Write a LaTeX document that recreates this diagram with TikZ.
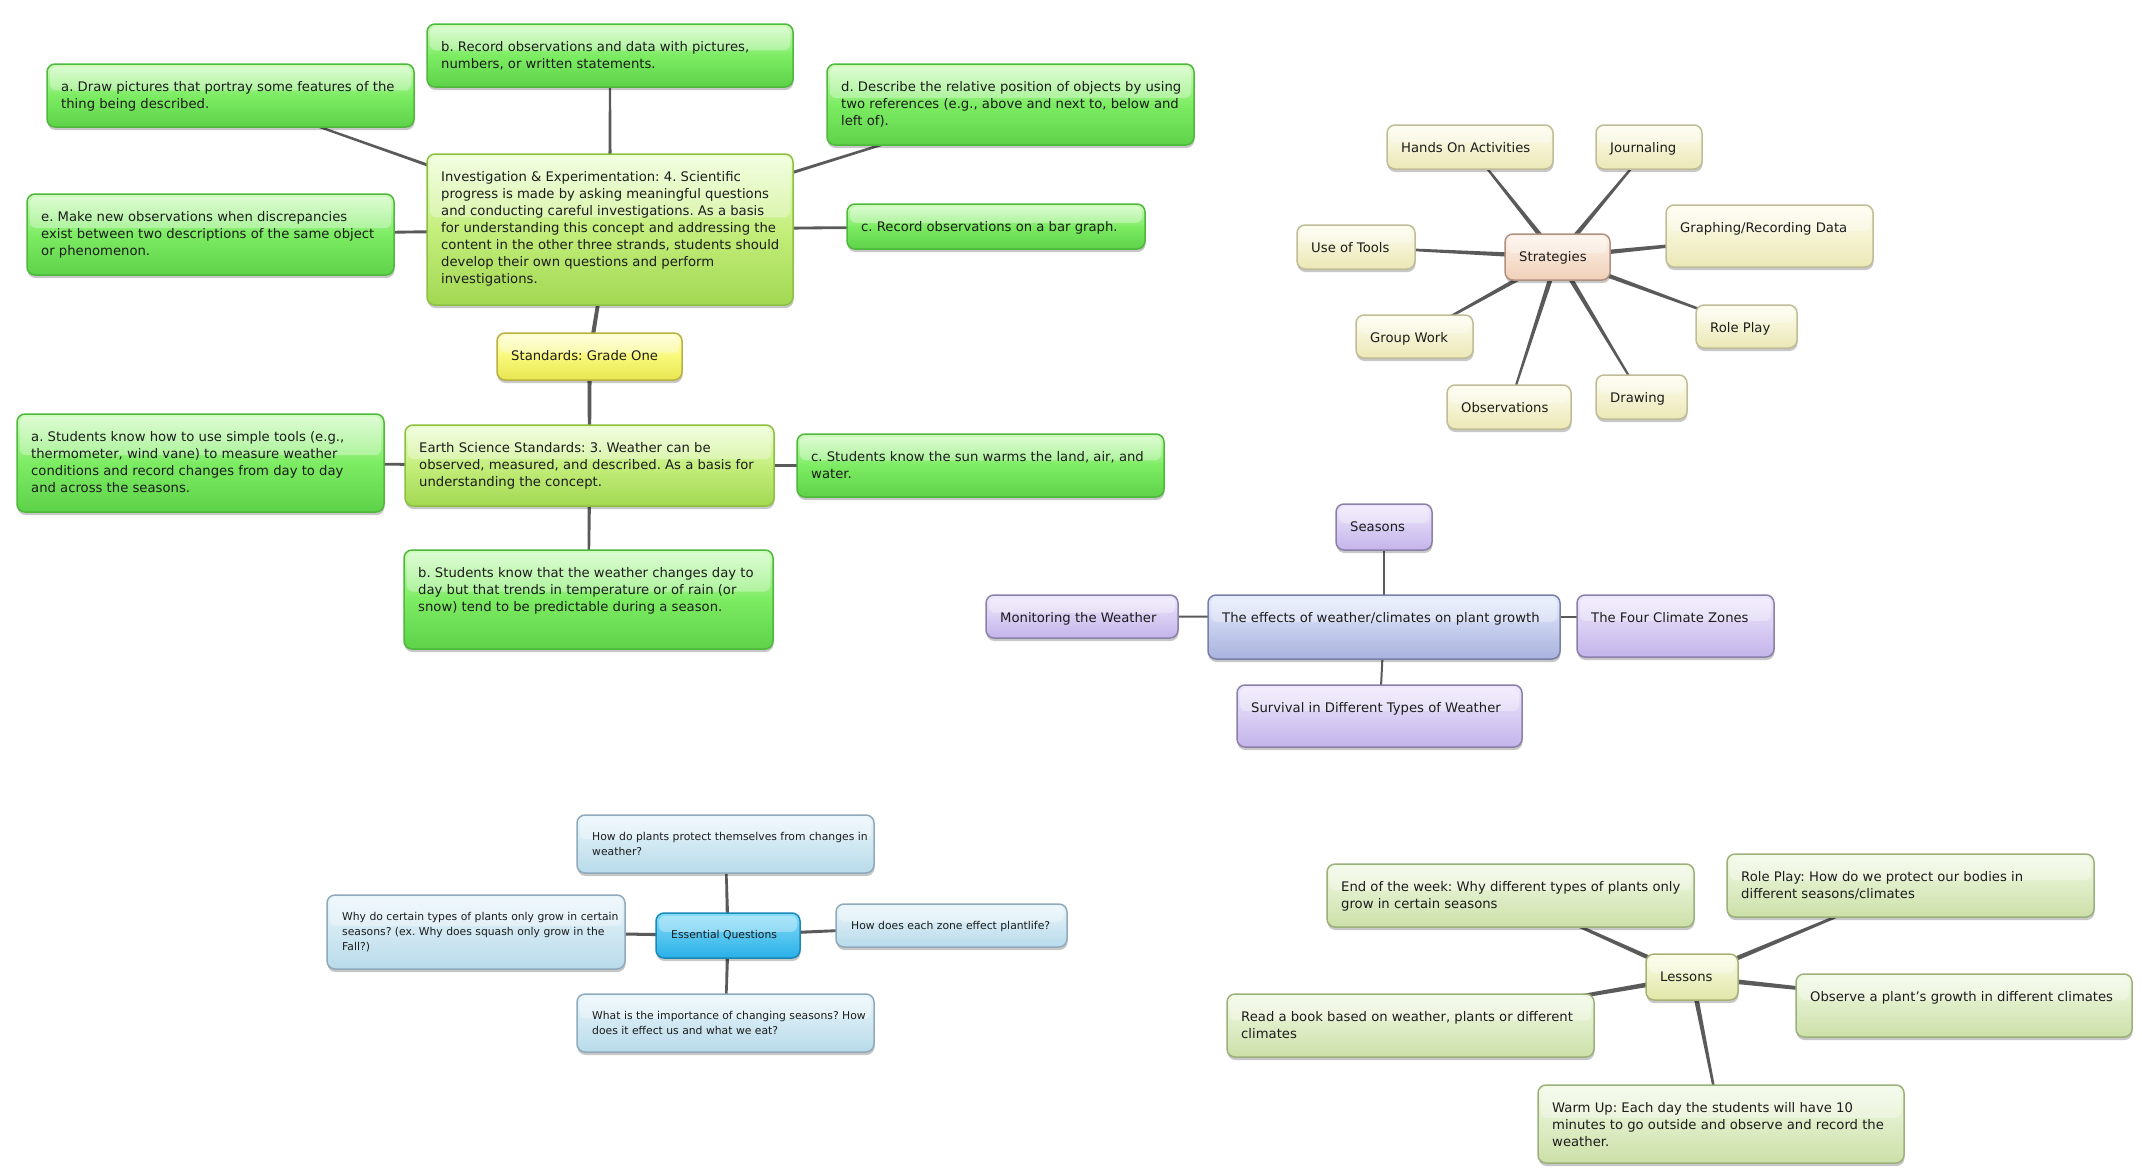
\documentclass[tikz,border=0pt]{standalone}
\usepackage{fontspec}
\setmainfont{DejaVu Sans}
\frenchspacing
\usetikzlibrary{calc,shadows,backgrounds}
\definecolor{txtc}{HTML}{1C1C1C}
\definecolor{connc}{HTML}{5A5A5A}
\definecolor{gTop}{HTML}{D2FCC2}\definecolor{gMid}{HTML}{7CEC62}\definecolor{gBot}{HTML}{5ED24A}\definecolor{gBd}{HTML}{4DB83A}
\definecolor{yTop}{HTML}{EEFFD4}\definecolor{yMid}{HTML}{C4EE7C}\definecolor{yBot}{HTML}{A2D852}\definecolor{yBd}{HTML}{8CC040}
\definecolor{sTop}{HTML}{FFFFD2}\definecolor{sMid}{HTML}{F8F87A}\definecolor{sBot}{HTML}{E8E652}\definecolor{sBd}{HTML}{B8B040}
\definecolor{bTop}{HTML}{FEFEF0}\definecolor{bBot}{HTML}{EBE8B6}\definecolor{bBd}{HTML}{C0BC98}
\definecolor{pkTop}{HTML}{FDF2EA}\definecolor{pkBot}{HTML}{F0D0B8}\definecolor{pkBd}{HTML}{B09080}
\definecolor{puTop}{HTML}{EEE8FD}\definecolor{puBot}{HTML}{C4B4EA}\definecolor{puBd}{HTML}{8A80A8}
\definecolor{blTop}{HTML}{E6ECFF}\definecolor{blBot}{HTML}{A8B2DC}\definecolor{blBd}{HTML}{7880A8}
\definecolor{lbTop}{HTML}{EAF6FB}\definecolor{lbBot}{HTML}{B8DBEA}\definecolor{lbBd}{HTML}{90AABB}
\definecolor{cyTop}{HTML}{88DCF8}\definecolor{cyBot}{HTML}{28B0E8}\definecolor{cyBd}{HTML}{1A88B8}
\definecolor{lgTop}{HTML}{F2FAE6}\definecolor{lgBot}{HTML}{CCE0A8}\definecolor{lgBd}{HTML}{9CB07C}
\definecolor{lyTop}{HTML}{FBFDE6}\definecolor{lyBot}{HTML}{E0E6A8}\definecolor{lyBd}{HTML}{A8B078}
\tikzset{
  mmbox/.style={rounded corners=8pt, line width=1.5pt, inner sep=0pt, outer sep=0pt,
    drop shadow={shadow xshift=0.5pt, shadow yshift=-3pt, opacity=0.22, fill=black}},
  greenbox/.style={mmbox, draw=gBd, top color=gTop, bottom color=gBot, middle color=gMid},
  ygbox/.style={mmbox, draw=yBd, top color=yTop, bottom color=yBot, middle color=yMid},
  yellowbox/.style={mmbox, draw=sBd, top color=sTop, bottom color=sBot, middle color=sMid},
  beigebox/.style={mmbox, draw=bBd, top color=bTop, bottom color=bBot},
  peachbox/.style={mmbox, draw=pkBd, top color=pkTop, bottom color=pkBot},
  purplebox/.style={mmbox, draw=puBd, top color=puTop, bottom color=puBot},
  bluebox/.style={mmbox, draw=blBd, top color=blTop, bottom color=blBot},
  lbluebox/.style={mmbox, draw=lbBd, top color=lbTop, bottom color=lbBot},
  cyanbox/.style={mmbox, draw=cyBd, top color=cyTop, bottom color=cyBot},
  lgreenbox/.style={mmbox, draw=lgBd, top color=lgTop, bottom color=lgBot},
  lyellowbox/.style={mmbox, draw=lyBd, top color=lyTop, bottom color=lyBot},
  txtL/.style={inner sep=0pt, anchor=north west, align=left, text=txtc,
    font=\fontsize{13.2}{17}\selectfont, xshift=14pt, yshift=-15.6pt},
  txtS/.style={inner sep=0pt, anchor=north west, align=left, text=txtc,
    font=\fontsize{10.8}{15.3}\selectfont, xshift=15pt, yshift=-14.3pt},
  plainconn/.style={draw=connc, line width=2pt},
}
\newcommand\mmnode[8]{%
  \node[#6, minimum width={#4-#2}, minimum height={#5-#3}] (#1) at ({(#2+#4)/2},{(#3+#5)/2}) {};
  \fill[white, opacity=0.32, rounded corners=6pt] ({#2+3},{#3+3}) rectangle ({#4-3},{#3+0.42*(#5-#3)});
  \node[#7] (#1-t) at (#2,#3) {\strut #8};
}
\newcommand\tconn[4]{%
  \fill[connc] ($(#1.center)!#3!90:(#2.center)$) -- ($(#2.center)!#4!-90:(#1.center)$)
    -- ($(#2.center)!#4!90:(#1.center)$) -- ($(#1.center)!#3!-90:(#2.center)$) -- cycle;}
\begin{document}
\begin{tikzpicture}[x=1pt,y=-1pt]
\useasboundingbox (0,0) rectangle (2142,1175);
% green cluster
\mmnode{gb}{427}{24}{793}{87}{greenbox}{txtL}{b. Record observations and data with pictures,\\numbers, or written statements.}
\mmnode{ga}{47}{64}{414}{127}{greenbox}{txtL}{a. Draw pictures that portray some features of the\\thing being described.}
\mmnode{gd}{827}{64}{1194}{145}{greenbox}{txtL}{d. Describe the relative position of objects by using\\two references (e.g., above and next to, below and\\left of).}
\mmnode{inv}{427}{154}{793}{305}{ygbox}{txtL}{Investigation \& Experimentation: 4. Scientific\\progress is made by asking meaningful questions\\and conducting careful investigations. As a basis\\for understanding this concept and addressing the\\content in the other three strands, students should\\develop their own questions and perform\\investigations.}
\mmnode{ge}{27}{194}{394}{275}{greenbox}{txtL}{e. Make new observations when discrepancies\\exist between two descriptions of the same object\\or phenomenon.}
\mmnode{gc}{847}{204}{1145}{249}{greenbox}{txtL}{c. Record observations on a bar graph.}
\mmnode{std}{497}{333}{682}{380}{yellowbox}{txtL}{Standards: Grade One}
\mmnode{earth}{405}{425}{774}{506}{ygbox}{txtL}{Earth Science Standards: 3. Weather can be\\observed, measured, and described. As a basis for\\understanding the concept.}
\mmnode{sa}{17}{414}{384}{512}{greenbox}{txtL}{a. Students know how to use simple tools (e.g.,\\thermometer, wind vane) to measure weather\\conditions and record changes from day to day\\and across the seasons.}
\mmnode{sc}{797}{434}{1164}{497}{greenbox}{txtL}{c. Students know the sun warms the land, air, and\\water.}
\mmnode{sb}{404}{550}{773}{649}{greenbox}{txtL}{b. Students know that the weather changes day to\\day but that trends in temperature or of rain (or\\snow) tend to be predictable during a season.}
% strategies
\mmnode{strat}{1505}{234}{1610}{280}{peachbox}{txtL}{Strategies}
\mmnode{hands}{1387}{125}{1553}{169}{beigebox}{txtL}{Hands On Activities}
\mmnode{journ}{1596}{125}{1702}{169}{beigebox}{txtL}{Journaling}
\mmnode{graph}{1666}{205}{1873}{267}{beigebox}{txtL}{Graphing/Recording Data}
\mmnode{tools}{1297}{225}{1415}{269}{beigebox}{txtL}{Use of Tools}
\mmnode{role}{1696}{305}{1797}{348}{beigebox}{txtL}{Role Play}
\mmnode{group}{1356}{315}{1473}{358}{beigebox}{txtL}{Group Work}
\mmnode{obs}{1447}{385}{1571}{429}{beigebox}{txtL}{Observations}
\mmnode{drw}{1596}{375}{1687}{419}{beigebox}{txtL}{Drawing}
% purple cluster
\mmnode{seasons}{1336}{504}{1432}{550}{purplebox}{txtL}{Seasons}
\mmnode{monitor}{986}{595}{1178}{638}{purplebox}{txtL}{Monitoring the Weather}
\mmnode{eff}{1208}{595}{1560}{659}{bluebox}{txtL}{The effects of weather/climates on plant growth}
\mmnode{fcz}{1577}{595}{1774}{657}{purplebox}{txtL}{The Four Climate Zones}
\mmnode{surv}{1237}{685}{1522}{747}{purplebox}{txtL}{Survival in Different Types of Weather}
% essential questions
\mmnode{eqa}{577}{815}{874}{873}{lbluebox}{txtS}{How do plants protect themselves from changes in\\weather?}
\mmnode{eqb}{327}{895}{625}{969}{lbluebox}{txtS}{Why do certain types of plants only grow in certain\\seasons? (ex. Why does squash only grow in the\\Fall?)}
\mmnode{eq}{656}{913}{800}{958}{cyanbox}{txtS}{Essential Questions}
\mmnode{eqc}{836}{904}{1067}{947}{lbluebox}{txtS}{How does each zone effect plantlife?}
\mmnode{eqd}{577}{994}{874}{1052}{lbluebox}{txtS}{What is the importance of changing seasons? How\\does it effect us and what we eat?}
% lessons
\mmnode{lend}{1327}{864}{1694}{927}{lgreenbox}{txtL}{End of the week: Why different types of plants only\\grow in certain seasons}
\mmnode{lrole}{1727}{854}{2094}{917}{lgreenbox}{txtL}{Role Play: How do we protect our bodies in\\different seasons/climates}
\mmnode{lessons}{1646}{954}{1738}{1000}{lyellowbox}{txtL}{Lessons}
\mmnode{lobs}{1796}{974}{2132}{1037}{lgreenbox}{txtL}{Observe a plant's growth in different climates}
\mmnode{lread}{1227}{994}{1594}{1057}{lgreenbox}{txtL}{Read a book based on weather, plants or different\\climates}
\mmnode{lwarm}{1538}{1085}{1904}{1163}{lgreenbox}{txtL}{Warm Up: Each day the students will have 10\\minutes to go outside and observe and record the\\weather.}
\begin{scope}[on background layer]
\fill[white] (0,0) rectangle (2142,1175);
\tconn{std}{inv}{2.2pt}{1.4pt}
\tconn{std}{earth}{2.2pt}{1.4pt}
\foreach \c in {ga,gb,gd,ge,gc}{\tconn{inv}{\c}{2.0pt}{0.9pt}}
\foreach \c in {sa,sb,sc}{\tconn{earth}{\c}{2.0pt}{0.9pt}}
\foreach \c in {hands,journ,graph,tools,role,group,obs,drw}{\tconn{strat}{\c}{2.6pt}{0.8pt}}
\foreach \c in {eqa,eqb,eqc,eqd}{\tconn{eq}{\c}{1.8pt}{1.0pt}}
\foreach \c in {lend,lrole,lobs,lread,lwarm}{\tconn{lessons}{\c}{2.6pt}{0.8pt}}
\draw[plainconn] (eff.center) -- (seasons.center);
\draw[plainconn] (eff.center) -- (surv.center);
\draw[plainconn] ([yshift=10pt]eff.center) -- (monitor.center);
\draw[plainconn] ([yshift=10pt]eff.center) -- ([yshift=9pt]fcz.center);
\end{scope}
\end{tikzpicture}
\end{document}
